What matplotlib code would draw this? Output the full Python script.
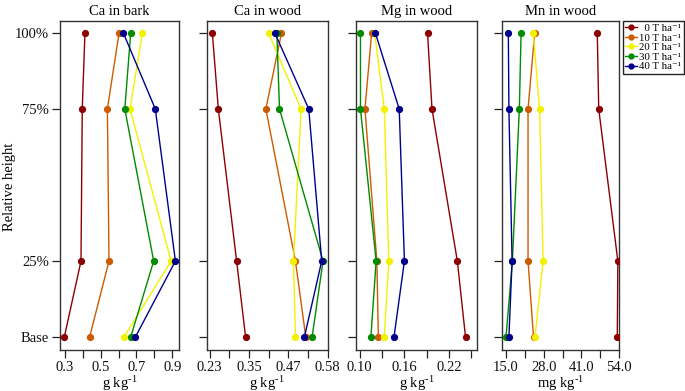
import matplotlib
matplotlib.use('Agg')
import matplotlib.pyplot as plt
from matplotlib.lines import Line2D

plt.rcParams['font.family'] = ['Liberation Serif', 'DejaVu Serif']
plt.rcParams['mathtext.fontset'] = 'custom'
plt.rcParams['mathtext.rm'] = 'Liberation Serif'
plt.rcParams['mathtext.it'] = 'Liberation Serif:italic'
plt.rcParams['mathtext.bf'] = 'Liberation Serif:bold'

# y categories
heights = [100, 75, 25, 0]
height_labels = ['100%', '75%', '25%', 'Base']

doses = ['0', '10', '20', '30', '40']
colors = ['#8B0000', '#CD5B00', '#F2F200', '#008B00', '#00008B']

# values at heights [100%, 75%, 25%, Base], one list per dose
ca_bark = [
    [0.413, 0.398, 0.391, 0.298],
    [0.603, 0.538, 0.547, 0.439],
    [0.733, 0.664, 0.893, 0.631],
    [0.668, 0.635, 0.796, 0.668],
    [0.627, 0.805, 0.917, 0.694],
]
ca_wood = [
    [0.238, 0.256, 0.311, 0.338],
    [0.446, 0.399, 0.488, 0.519],
    [0.407, 0.505, 0.482, 0.488],
    [0.432, 0.440, 0.571, 0.538],
    [0.426, 0.528, 0.567, 0.515],
]
mg_wood = [
    [0.191, 0.197, 0.231, 0.242],
    [0.116, 0.107, 0.123, 0.125],
    [0.120, 0.133, 0.139, 0.133],
    [0.101, 0.101, 0.122, 0.115],
    [0.121, 0.153, 0.160, 0.146],
]
mn_wood = [
    [46.5, 47.0, 53.6, 53.4],
    [24.9, 22.6, 22.6, 24.5],
    [24.4, 26.6, 27.8, 25.0],
    [20.2, 19.6, 17.2, 15.0],
    [15.8, 16.0, 17.1, 16.0],
]

titles = ['Ca in bark', 'Ca in wood', 'Mg in wood', 'Mn in wood']
xlabels = [r'g kg$^{\text{-1}}$', r'g kg$^{\text{-1}}$', r'g kg$^{\text{-1}}$', r'mg kg$^{\text{-1}}$']
panel_data = [ca_bark, ca_wood, mg_wood, mn_wood]

xticks_all = [
    [0.3, 0.4, 0.5, 0.6, 0.7, 0.8, 0.9],
    [0.23 + i * 0.355 / 6 for i in range(7)],
    [0.10, 0.13, 0.16, 0.19, 0.22, 0.25],
    [15.0, 21.5, 28.0, 34.5, 41.0, 47.5, 54.0],
]
xticklabels_all = [
    ['0.3', '', '0.5', '', '0.7', '', '0.9'],
    ['0.23', '', '0.35', '', '0.47', '', '0.58'],
    ['0.10', '', '0.16', '', '0.22', ''],
    ['15.0', '', '28.0', '', '41.0', '', '54.0'],
]
xlims = [(0.274, 0.937), (0.221, 0.583), (0.095, 0.257), (13.72, 54.1)]

W, H = 685, 391
fig = plt.figure(figsize=(W / 100, H / 100), dpi=100)

frames = [(60, 179), (206.7, 327.7), (356, 476.7), (502.3, 619.3)]
top_px, bot_px = 21, 349.5

axes = []
for k, (l, r) in enumerate(frames):
    ax = fig.add_axes([l / W, (H - bot_px) / H, (r - l) / W, (bot_px - top_px) / H])
    axes.append(ax)
    for j, vals in enumerate(panel_data[k]):
        ax.plot(vals, heights, color=colors[j], lw=1.0, marker='o', ms=4.2,
                mec=colors[j], mfc=colors[j], zorder=3)
    ax.set_ylim(-4.1, 103.95)
    ax.set_xlim(*xlims[k])
    ax.set_yticks(heights)
    if k == 0:
        ax.set_yticklabels(height_labels, fontsize=10.5)
    else:
        ax.set_yticklabels([])
    ax.set_xticks(xticks_all[k])
    ax.set_xticklabels(xticklabels_all[k], fontsize=10.5)
    ax.tick_params(direction='out', length=5.5, width=0.9, pad=2.5, colors='#222222',
                   labelcolor='#111111')
    for s in ax.spines.values():
        s.set_linewidth(1.0)
        s.set_color('#333333')
    ax.set_title(titles[k], fontsize=10.5, pad=4)
    ax.set_xlabel(xlabels[k], fontsize=10.5, labelpad=0)

fig.text(10 / W, 1 - 187 / H, 'Relative height', rotation=90, fontsize=10.5,
         ha='center', va='center')

handles = [Line2D([0], [0], color=c, marker='o', ms=3.5, lw=1.0) for c in colors]
labels = ['\u2007' + doses[0] + ' T ha\u207b\u00b9'] + [d + ' T ha\u207b\u00b9' for d in doses[1:]]
leg = fig.legend(handles, labels, loc='upper left',
                 bbox_to_anchor=(622.7 / W, 1 - 20.7 / H), fontsize=7.8,
                 frameon=True, fancybox=False, edgecolor='#222222', framealpha=1,
                 handlelength=1.1, handletextpad=0.2, labelspacing=0.0,
                 borderpad=0.25, borderaxespad=0)
leg.get_frame().set_linewidth(1.0)

fig.savefig('out.png', dpi=100)
